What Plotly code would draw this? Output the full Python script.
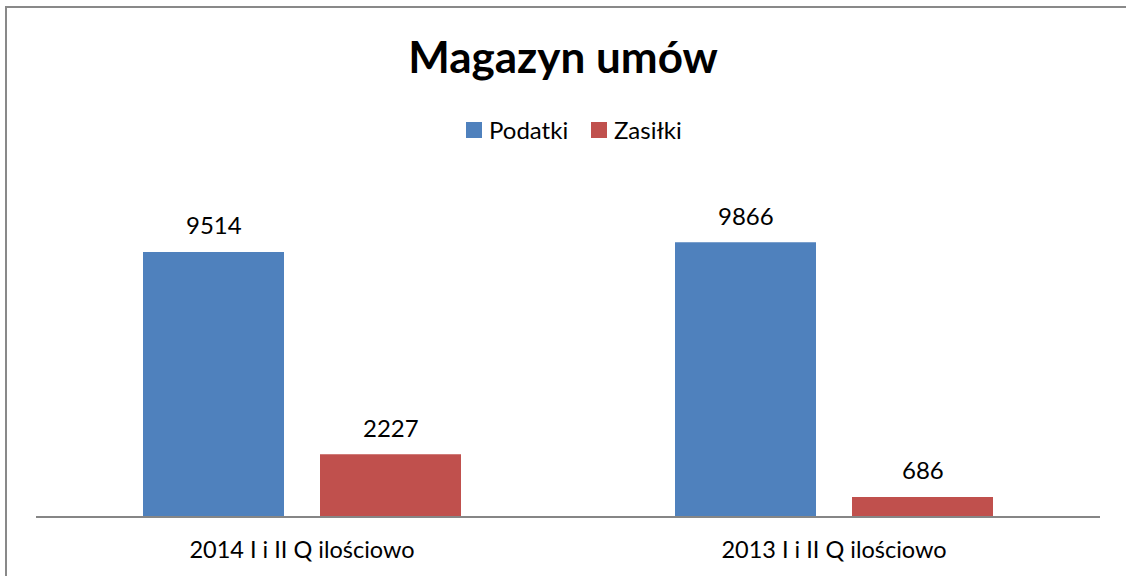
import plotly.graph_objects as go

categories = ["2014 I i II Q ilościowo", "2013 I i II Q ilościowo"]
podatki = [9514, 9866]
zasilki = [2227, 686]
series_names = ["Podatki", "Zasiłki"]
colors = ["#4F81BD", "#C0504D"]
title = "Magazyn umów"

FONT = "Lato, Carlito, Calibri, sans-serif"

# plot area in pixels (for converting legend/border positions to paper coords)
L, R, T, B = 36, 26, 183, 60
W, H = 1126, 576
PW, PH = W - L - R, H - T - B


def px2x(px):
    return (px - L) / PW


def py2y(py):
    return (H - B - py) / PH


fig = go.Figure()
for name, vals, col in zip(series_names, [podatki, zasilki], colors):
    fig.add_trace(go.Bar(name=name, x=categories, y=vals, showlegend=False,
                         marker=dict(color=col, line=dict(width=0))))

# data labels
for i, (name, vals) in enumerate(zip(series_names, [podatki, zasilki])):
    shift = -88.5 if i == 0 else 88.5
    for c, v in zip(categories, vals):
        fig.add_annotation(x=c, y=v, text=str(v), showarrow=False, xshift=shift, yshift=27,
                           font=dict(family=FONT, size=24, color="#000000"))

# custom legend
legend_x = [466, 591]
for name, col, lx in zip(series_names, colors, legend_x):
    fig.add_shape(type="rect", xref="paper", yref="paper",
                  x0=px2x(lx), x1=px2x(lx + 16), y0=py2y(138), y1=py2y(122),
                  fillcolor=col, line=dict(width=0))
    fig.add_annotation(xref="paper", yref="paper", x=px2x(lx + 21), y=py2y(130),
                       xanchor="left", yanchor="middle", text=name, showarrow=False,
                       font=dict(family=FONT, size=24, color="#000000"))

# outer border
fig.add_shape(type="rect", xref="paper", yref="paper", x0=px2x(6), x1=2, y0=-1, y1=py2y(7),
              line=dict(color="#898989", width=2), fillcolor="rgba(0,0,0,0)", layer="below")

fig.update_layout(
    width=W, height=H,
    margin=dict(l=L, r=R, t=T, b=B),
    paper_bgcolor="white", plot_bgcolor="white",
    barmode="group", bargap=0.3346, bargroupgap=0.2034,
    title=dict(text=f"<b>{title}</b>", x=0.5, xanchor="center", y=1 - 58 / 576, yanchor="middle",
               yref="container", font=dict(family=FONT, size=44, color="#000000")),
    showlegend=False,
    xaxis=dict(showline=True, linecolor="#868686", linewidth=1.5, showgrid=False, ticks="",
               tickfont=dict(family=FONT, size=23.5, color="#000000"), ticklabelstandoff=12),
    yaxis=dict(range=[0, 12000], visible=False, showgrid=False, zeroline=False),
)

fig.write_html("out.html")
